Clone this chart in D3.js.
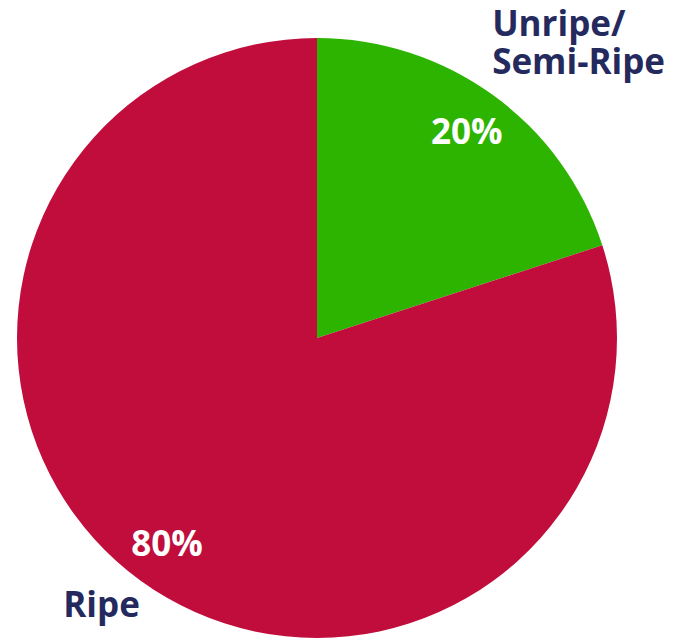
<!DOCTYPE html>
<html>
<head>
<meta charset="utf-8">
<script src="https://cdn.jsdelivr.net/npm/d3@7"></script>
<style>
  html, body { margin: 0; padding: 0; background: #ffffff; }
  svg { display: block; }
</style>
</head>
<body>
<svg id="chart" width="673" height="638"></svg>
<script>
// Share of fruit by ripeness stage
const categories = ["Unripe/\nSemi-Ripe", "Ripe"];
const shares = [20, 80];
const colors = ["#2db400", "#c00d3c"];

const width = 673, height = 638;
const cx = 317, cy = 338, radius = 300;

const svg = d3.select("#chart");
const g = svg.append("g").attr("transform", `translate(${cx},${cy})`);

const data = categories.map((c, i) => ({ name: c, value: shares[i], color: colors[i] }));

const pie = d3.pie().value(d => d.value).sort(null).startAngle(0).endAngle(2 * Math.PI);
const arcs = pie(data);

const arc = d3.arc().innerRadius(0).outerRadius(radius);
const inner = d3.arc().innerRadius(radius * 0.85).outerRadius(radius * 0.85);
const outer = d3.arc().innerRadius(radius * 1.05).outerRadius(radius * 1.05);

g.selectAll("path.slice")
  .data(arcs)
  .join("path")
  .attr("class", "slice")
  .attr("d", arc)
  .attr("fill", d => d.data.color);

const font = "'Open Sans', 'Noto Sans', sans-serif";

// percentage labels inside the slices
g.selectAll("text.pct")
  .data(arcs)
  .join("text")
  .attr("class", "pct")
  .attr("x", d => inner.centroid(d)[0])
  .attr("y", d => inner.centroid(d)[1] + 12)
  .attr("text-anchor", "middle")
  .attr("font-family", font)
  .attr("font-weight", 700)
  .attr("font-size", 35)
  .attr("fill", "#ffffff")
  .text(d => d.data.value + "%");

// category labels outside the pie
const lineH = 38;
arcs.forEach(d => {
  const [px, py] = outer.centroid(d);
  const mid = (d.startAngle + d.endAngle) / 2;
  const right = Math.sin(mid) > 0;
  const lines = d.data.name.split("\n");
  const t = g.append("text")
    .attr("font-family", font)
    .attr("font-weight", 700)
    .attr("font-size", 35)
    .attr("fill", "#252a5e")
    .attr("text-anchor", right ? "start" : "end");
  const baseX = right ? px - 10 : px + 8;
  const lastY = right ? py - 9 : py + 24;
  lines.forEach((ln, i) => {
    t.append("tspan")
      .attr("x", baseX)
      .attr("y", lastY - (lines.length - 1 - i) * lineH)
      .text(ln);
  });
});
</script>
</body>
</html>
